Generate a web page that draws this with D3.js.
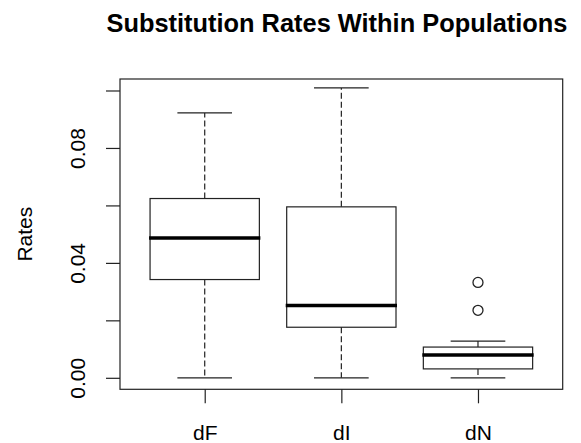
<!DOCTYPE html>
<html>
<head>
<meta charset="utf-8">
<script src="https://cdn.jsdelivr.net/npm/d3@7"></script>
<style>
  body { margin: 0; background: #fff; }
  svg text { font-family: "Liberation Sans", Arial, sans-serif; }
</style>
</head>
<body>
<div id="chart"></div>
<script>
// box statistics
const categories = ["dF", "dI", "dN"];
const lowWhisker = [0, 0, 0];
const q1 = [0.0342, 0.0176, 0.0031];
const medians = [0.0487, 0.0252, 0.0079];
const q3 = [0.0624, 0.0595, 0.0107];
const highWhisker = [0.0922, 0.1009, 0.0128];
const outliers = [[], [], [0.0235, 0.0332]];
const yTicks = [0, 0.02, 0.04, 0.06, 0.08, 0.10];
const yLabels = [0, 0.04, 0.08];

const width = 581, height = 443;
const margin = { top: 79, right: 18.3, bottom: 53.7, left: 120 };
const ink = "#222";

const svg = d3.select("#chart")
  .append("svg")
  .attr("width", width)
  .attr("height", height);

const x = d3.scalePoint()
  .domain(categories)
  .range([margin.left, width - margin.right])
  .padding(0.62);

const y = d3.scaleLinear()
  .domain([-0.004, 0.104])
  .range([height - margin.bottom, margin.top]);

const boxW = x.step() * 0.8;
const capW = boxW * 0.5;

const boxes = categories.map((c, i) => ({
  name: c, lo: lowWhisker[i], q1: q1[i], med: medians[i], q3: q3[i], hi: highWhisker[i], out: outliers[i]
}));

const g = svg.selectAll("g.box")
  .data(boxes)
  .join("g")
  .attr("class", "box")
  .attr("transform", d => `translate(${x(d.name)},0)`);

// whiskers (dashed)
g.append("line")
  .attr("y1", d => y(d.q3)).attr("y2", d => y(d.hi))
  .attr("stroke", ink).attr("stroke-width", 1.2).attr("stroke-dasharray", "6,3");
g.append("line")
  .attr("y1", d => y(d.q1)).attr("y2", d => y(d.lo))
  .attr("stroke", ink).attr("stroke-width", 1.2).attr("stroke-dasharray", "6,3");

// staples
g.selectAll("line.cap")
  .data(d => [d.lo, d.hi])
  .join("line")
  .attr("class", "cap")
  .attr("x1", -capW / 2).attr("x2", capW / 2)
  .attr("y1", v => y(v)).attr("y2", v => y(v))
  .attr("stroke", ink).attr("stroke-width", 1.2);

// box
g.append("rect")
  .attr("x", -boxW / 2)
  .attr("width", boxW)
  .attr("y", d => y(d.q3))
  .attr("height", d => y(d.q1) - y(d.q3))
  .attr("fill", "none")
  .attr("stroke", ink).attr("stroke-width", 1.2);

// median
g.append("line")
  .attr("x1", -boxW / 2 - 1).attr("x2", boxW / 2 + 1)
  .attr("y1", d => y(d.med)).attr("y2", d => y(d.med))
  .attr("stroke", "#000").attr("stroke-width", 3.5);

// outliers
g.selectAll("circle")
  .data(d => d.out)
  .join("circle")
  .attr("cx", 0)
  .attr("cy", v => y(v))
  .attr("r", 5)
  .attr("fill", "none")
  .attr("stroke", ink).attr("stroke-width", 1.3);

// frame
svg.append("rect")
  .attr("x", margin.left).attr("y", margin.top)
  .attr("width", width - margin.left - margin.right)
  .attr("height", height - margin.top - margin.bottom)
  .attr("fill", "none").attr("stroke", ink).attr("stroke-width", 1.2);

// y axis
const yAxis = svg.append("g")
  .attr("transform", `translate(${margin.left},0)`)
  .call(d3.axisLeft(y).tickValues(yTicks).tickSize(14).tickSizeOuter(0)
    .tickFormat(v => yLabels.some(l => Math.abs(l - v) < 1e-9) ? d3.format(".2f")(v) : ""));
yAxis.select(".domain").remove();
yAxis.selectAll("line").attr("stroke", ink).attr("stroke-width", 1.2);
yAxis.selectAll("text")
  .attr("transform", "rotate(-90)")
  .attr("x", 0).attr("y", -35).attr("dy", 0)
  .attr("text-anchor", "middle")
  .attr("font-size", 21)
  .attr("fill", "#000");

// x axis
const xAxis = svg.append("g")
  .attr("transform", `translate(0,${height - margin.bottom})`)
  .call(d3.axisBottom(x).tickSize(14).tickSizeOuter(0));
xAxis.select(".domain").remove();
xAxis.selectAll("line").attr("stroke", ink).attr("stroke-width", 1.2);
xAxis.selectAll("text")
  .attr("y", 51).attr("dy", 0)
  .attr("font-size", 21)
  .attr("fill", "#000");

// y title
svg.append("text")
  .attr("transform", `translate(32,${(margin.top + height - margin.bottom) / 2}) rotate(-90)`)
  .attr("text-anchor", "middle")
  .attr("font-size", 21)
  .text("Rates");

// main title
svg.append("text")
  .attr("x", 337)
  .attr("y", 32)
  .attr("text-anchor", "middle")
  .attr("font-size", 25.4)
  .attr("font-weight", "bold")
  .text("Substitution Rates Within Populations");
</script>
</body>
</html>
